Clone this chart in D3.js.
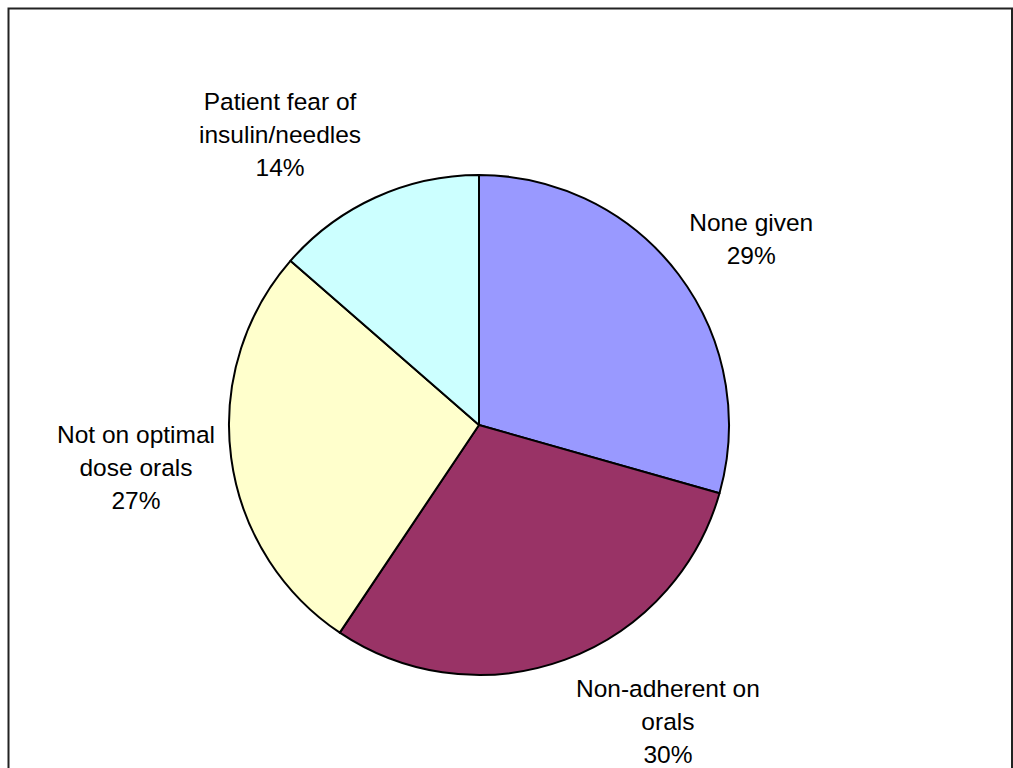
<!DOCTYPE html>
<html>
<head>
<meta charset="utf-8">
<script src="https://cdn.jsdelivr.net/npm/d3@7"></script>
<style>
  html, body { margin: 0; padding: 0; background: #fff; }
  svg { display: block; }
</style>
</head>
<body>
<script>
// ---- data ----
const categories = ["None given", "Non-adherent on orals", "Not on optimal dose orals", "Patient fear of insulin/needles"];
const values = [29.4, 30.0, 27.0, 13.6];
const labelLines = [
  ["None given"],
  ["Non-adherent on", "orals"],
  ["Not on optimal", "dose orals"],
  ["Patient fear of", "insulin/needles"]
];
const colors = ["#9999FF", "#993366", "#FFFFCC", "#CCFFFF"];

// ---- layout ----
const W = 1013, H = 768;
const cx = 479, cy = 425, r = 250;
const labelR = 345;
const fontSize = 24.5, lineH = 33, capH = 18;
// Excel-like label nudges (layout, not data)
const nudges = [[-3, 21], [70, -28], [-1, -3], [-56, 23]];

const svg = d3.select("body").append("svg")
  .attr("width", W).attr("height", H);

svg.append("rect")
  .attr("x", 8.5).attr("y", 8.5)
  .attr("width", 1003.5).attr("height", 800)
  .attr("fill", "#fff")
  .attr("stroke", "#222").attr("stroke-width", 2);

const total = d3.sum(values);
const pie = d3.pie().sort(null).value(d => d)(values);
const arc = d3.arc().innerRadius(0).outerRadius(r);
const labelArc = d3.arc().innerRadius(labelR).outerRadius(labelR);

const g = svg.append("g").attr("transform", `translate(${cx},${cy})`);

g.selectAll("path.slice")
  .data(pie)
  .join("path")
  .attr("class", "slice")
  .attr("d", arc)
  .attr("fill", (d, i) => colors[i])
  .attr("stroke", "#000")
  .attr("stroke-width", 2)
  .attr("stroke-linejoin", "round");

const labels = g.selectAll("text.lbl")
  .data(pie)
  .join("text")
  .attr("class", "lbl")
  .attr("font-family", "'Liberation Sans', Arial, sans-serif")
  .attr("font-size", fontSize)
  .attr("fill", "#000")
  .attr("text-anchor", "middle");

labels.each(function(d, i) {
  const [x0, y0] = labelArc.centroid(d);
  const x = x0 + nudges[i][0];
  const yc = y0 + nudges[i][1];
  const lines = labelLines[i].concat([Math.round(d.value / total * 100) + "%"]);
  const blockH = capH + lineH * (lines.length - 1);
  const y1 = yc - blockH / 2 + capH;
  const t = d3.select(this);
  lines.forEach((s, k) => {
    t.append("tspan").attr("x", x).attr("y", y1 + k * lineH).text(s);
  });
});
</script>
</body>
</html>
